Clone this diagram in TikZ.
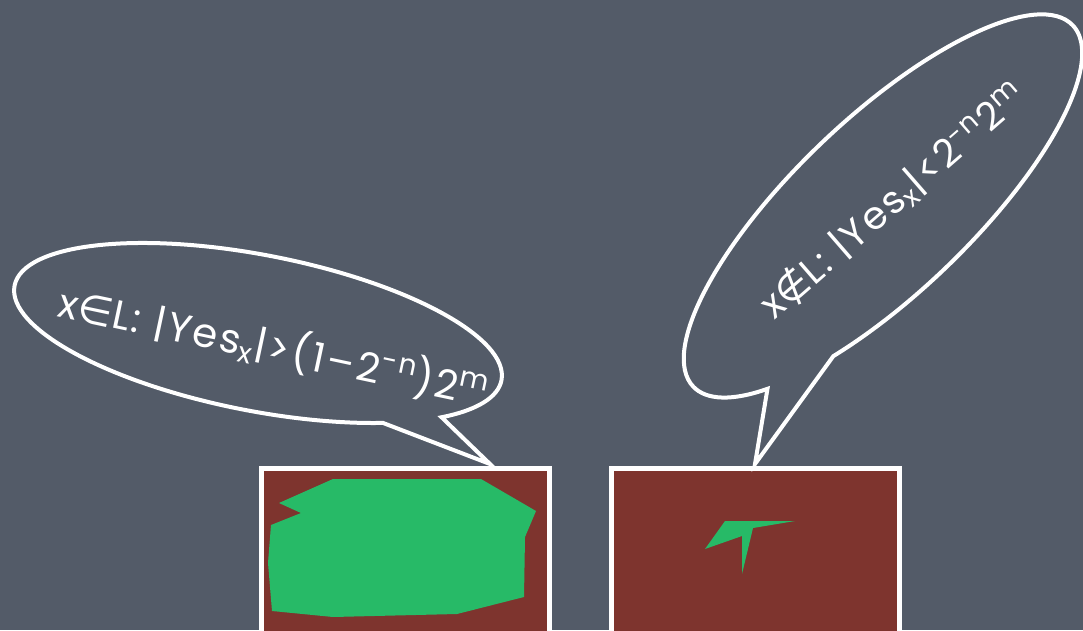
\documentclass[tikz,border=0pt]{standalone}
\usepackage{fontspec}
\setmainfont[LetterSpace=6]{Poppins}
\newfontfamily\symfont{DejaVu Sans}
\usetikzlibrary{shapes.callouts}
\definecolor{BoardSlate}{HTML}{535B68}
\definecolor{PanelRust}{HTML}{7E342E}
\definecolor{BlobGreen}{HTML}{27BA67}

\begin{document}
\begin{tikzpicture}[x=0.2mm, y=0.2mm, every node/.style={font=\fontsize{22}{24}\selectfont, text=white}]
  \tikzstyle{bubble}=[ellipse callout, draw=white, line width=0.8mm, inner sep=0pt, callout pointer arc=18]
  \tikzstyle{panel}=[rectangle, draw=white, fill=PanelRust, line width=1mm,
  minimum width=57.6mm, minimum height=38mm, anchor=north west]
  \useasboundingbox (0,0) rectangle (1083,630);
  \fill[BoardSlate] (0,0) rectangle (1083,630);
  \clip (0,0) rectangle (1083,630);
  \node[panel] (inbox) at (258.5,164) {};
  \node[panel] (outbox) at (609,164) {};
  \fill[BlobGreen] (333,151) -- (481,151) -- (536,119) -- (525,93) -- (524,33) -- (457,16)
    -- (333,13) -- (272,19) -- (268,67) -- (271,105) -- (301,117) -- (279,127) -- cycle;
  \fill[BlobGreen] (725,109) -- (795,109) -- (753,102) -- (742,56) -- (742,94) -- (705,81) -- cycle;
  \coordinate (intip) at (490,166);
  \coordinate (outtip) at (755,166);
  \node[bubble, rotate=-11, minimum width=99.2mm, minimum height=31.2mm,
  callout absolute pointer={(intip)}] (inbubble) at (258,297) {};
  \node[rotate=-12, font=\fontsize{23}{25}\selectfont] (intext) at (274,283)
    {x{\symfont∈}L: |Yes\textsubscript{x}|>(1–2\textsuperscript{-n})2\textsuperscript{m}};
  \node[bubble, rotate=43.6, minimum width=104.8mm, minimum height=35.2mm, callout pointer arc=21,
  callout absolute pointer={(outtip)}] (outbubble) at (883,424) {};
  \node[rotate=41] (outtext) at (893,430)
    {x{\symfont∉}L: |Yes\textsubscript{x}|<2\textsuperscript{-n}2\textsuperscript{m}};
\end{tikzpicture}
\end{document}
